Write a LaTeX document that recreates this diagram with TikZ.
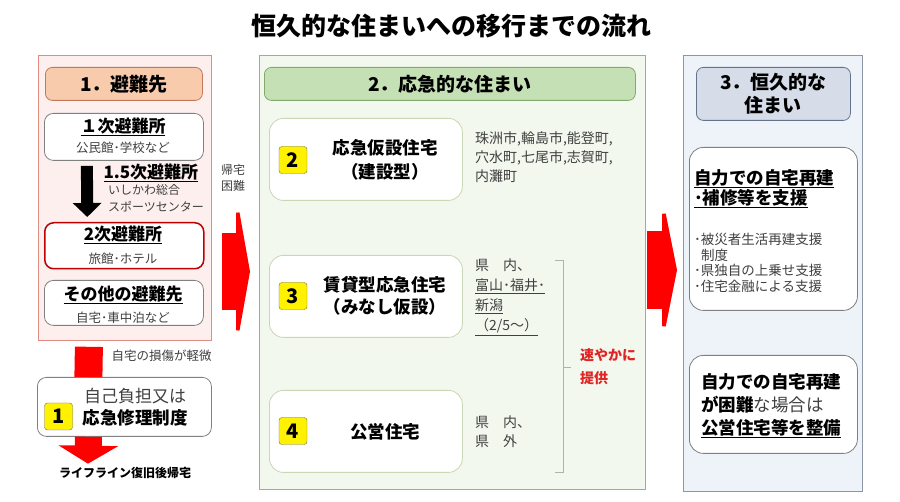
\documentclass[tikz,border=0pt]{standalone}
\usepackage{fontspec}
\setmainfont{Noto Sans CJK JP}
\usetikzlibrary{arrows.meta}

\definecolor{txtgray}{RGB}{64,64,64}
\definecolor{pinkbg}{RGB}{252,239,238}
\definecolor{pinkline}{RGB}{225,140,130}
\definecolor{peach}{RGB}{248,203,173}
\definecolor{peachline}{RGB}{196,120,90}
\definecolor{greenbg}{RGB}{243,248,239}
\definecolor{greenline}{RGB}{160,172,150}
\definecolor{greenhdr}{RGB}{197,224,180}
\definecolor{greenhdrline}{RGB}{130,170,110}
\definecolor{cardline}{RGB}{200,215,180}
\definecolor{bluebg}{RGB}{238,243,250}
\definecolor{blueline}{RGB}{140,150,165}
\definecolor{bluehdr}{RGB}{214,220,232}
\definecolor{bluehdrline}{RGB}{100,115,140}
\definecolor{darkred}{RGB}{192,0,0}
\definecolor{hotred}{RGB}{255,0,0}
\definecolor{textred}{RGB}{225,35,35}
\definecolor{badgeline}{RGB}{120,110,40}
\definecolor{bracketline}{RGB}{170,185,155}

\begin{document}
\begin{tikzpicture}[x=1pt,y=-1pt,
  panel/.style={draw,anchor=north west,inner sep=0pt,line width=0.8pt},
  header/.style={draw,rounded corners=7pt,anchor=north west,inner sep=0pt,line width=0.8pt,align=center,font=\bfseries\fontsize{19}{23}\selectfont},
  card/.style={draw=gray,fill=white,rounded corners=9pt,anchor=north west,inner sep=0pt,line width=0.8pt},
  badge/.style={draw=badgeline,fill=yellow,rounded corners=3pt,minimum width=28pt,minimum height=27pt,inner sep=0pt,font=\bfseries\fontsize{20}{20}\selectfont},
  bold17/.style={font=\bfseries\fontsize{17}{21}\selectfont},
  big/.style={align=center,font=\bfseries\fontsize{17.5}{24}\selectfont},
  note/.style={text=txtgray,font=\fontsize{12.5}{16}\selectfont},
  side/.style={text=txtgray,align=left,anchor=north west,inner sep=0pt,font=\fontsize{14}{19}\selectfont}]
  \useasboundingbox[fill=white] (0,0) rectangle (900,502);

  \node[font=\bfseries\fontsize{25}{30}\selectfont] (title) at (451,26) {恒久的な住まいへの移行までの流れ};

  \node[panel,draw=pinkline,fill=pinkbg,minimum width=173pt,minimum height=285pt] (evac) at (38,55) {};
  \node[header,draw=peachline,fill=peach,minimum width=157pt,minimum height=33pt] (evachd) at (45,67) {1．避難先};
  \node[card,minimum width=159pt,minimum height=47pt] (shelter1) at (44,113) {};
  \node[bold17] (s1name) at (123,127) {\underline{１次避難所}};
  \node[note] (s1note) at (123,148) {公民館･学校など};
  \node[bold17,anchor=west] (s15name) at (100,173) {\underline{1.5次避難所}};
  \node[note,align=left,anchor=north west,inner sep=0pt,font=\fontsize{12}{17.5}\selectfont] (s15note) at (108,184) {いしかわ総合\\スポーツセンター};
  \node[card,draw=darkred,line width=1.5pt,minimum width=159pt,minimum height=46pt] (shelter2) at (44,222) {};
  \node[bold17] (s2name) at (123,235) {\underline{2次避難所}};
  \node[note] (s2note) at (123,259) {旅館･ホテル};
  \node[card,minimum width=159pt,minimum height=45pt] (other) at (44,280) {};
  \node[bold17] (othername) at (123,295) {\underline{その他の避難先}};
  \node[note] (othernote) at (123,318) {自宅･車中泊など};
  \draw[line width=12pt,-{Triangle[length=14pt,width=28pt]}] ([xshift=-37pt,yshift=-5pt]shelter1.south) -- ([xshift=-37pt,yshift=5pt]shelter2.north);

  \node[note,anchor=west] (minor) at (108,356) {自宅の損傷が軽微};
  \node[card,minimum width=174pt,minimum height=59pt] (selfpay) at (37,377) {};
  \draw[hotred,line width=28pt] ([xshift=-36pt,yshift=-6pt]evac.south) -- ([xshift=-36pt]selfpay.north);
  \node[text=txtgray,font=\fontsize{17}{20}\selectfont] (selfpay1) at (135,396) {自己負担又は};
  \node[anchor=west,font=\bfseries\fontsize{17.5}{20}\selectfont] (selfpay2) at (79,418) {応急修理制度};
  \node[badge] (b1) at (58.5,416.5) {1};
  \node[font=\bfseries\fontsize{12}{14}\selectfont] (lifeline) at (125,473) {ライフライン復旧後帰宅};
  \draw[hotred,line width=27pt,-{Triangle[length=18pt,width=59pt]}] ([xshift=-36pt]selfpay.south) -- ([xshift=-37pt]lifeline.north);

  \node[note,align=center,font=\fontsize{12}{16}\selectfont] (hard) at (233,178) {帰宅\\困難};
  \draw[hotred,line width=77pt,-{Triangle[length=14pt,width=157pt]}] (222,271.5) -- (250,271.5);

  \node[panel,draw=greenline,fill=greenbg,minimum width=386pt,minimum height=434pt] (temp) at (259,55) {};
  \node[header,draw=greenhdrline,fill=greenhdr,minimum width=371pt,minimum height=33pt] (temphd) at (264,67) {2．応急的な住まい};
  \node[card,draw=cardline,minimum width=193pt,minimum height=82pt,rounded corners=14pt] (prefab) at (269,118) {};
  \node[badge] (b2) at (293,160) {2};
  \node[big] (prefabname) at (385,160) {応急仮設住宅\\（建設型）};
  \node[side] (prefabcity) at (475,131) {珠洲市,輪島市,能登町,\\穴水町,七尾市,志賀町,\\内灘町};
  \node[card,draw=cardline,minimum width=193pt,minimum height=82pt,rounded corners=14pt] (rental) at (269,255) {};
  \node[badge] (b3) at (293,296) {3};
  \node[big,font=\bfseries\fontsize{17.5}{22}\selectfont] (rentalname) at (385,296) {賃貸型応急住宅\\（みなし仮設）};
  \node[side,font=\fontsize{14}{20}\selectfont] (rentalarea) at (475,259) {県　内、\\\underline{富山･福井･}\\\underline{新潟}\\\underline{（2/5～）}};
  \node[card,draw=cardline,minimum width=193pt,minimum height=82pt,rounded corners=14pt] (public) at (269,390) {};
  \node[badge] (b4) at (293,431) {4};
  \node[big] (publicname) at (385,432) {公営住宅};
  \node[side,font=\fontsize{14}{18.5}\selectfont] (publicarea) at (475,416) {県　内、\\県　外};
  \draw[bracketline,line width=0.8pt] (555,260) -- (563,260) -- (563,472) -- (555,472);
  \draw[bracketline,line width=0.8pt] (563,367) -- (571,367);
  \node[text=textred,align=left,anchor=north west,inner sep=0pt,font=\bfseries\fontsize{14}{23}\selectfont] (quick) at (580,348) {速やかに\\提供};

  \draw[hotred,line width=78pt,-{Triangle[length=15pt,width=150pt]}] (647,270) -- (677,270);

  \node[panel,draw=blueline,fill=bluebg,minimum width=179pt,minimum height=436pt] (perm) at (683,55) {};
  \node[header,draw=bluehdrline,fill=bluehdr,minimum width=154pt,minimum height=53pt] (permhd) at (696,67) {3．恒久的な\\住まい};
  \node[card,minimum width=168pt,minimum height=163pt,rounded corners=14pt] (rebuild) at (689,147) {};
  \node[align=left,anchor=north west,inner sep=0pt,font=\bfseries\fontsize{17.5}{20}\selectfont] (rebuildname) at (694,169) {\underline{自力での自宅再建}\\\underline{･補修等を支援}};
  \node[text=txtgray,align=left,anchor=north west,inner sep=0pt,font=\fontsize{13.5}{15.5}\selectfont] (rebuildlist) at (694,233) {･被災者生活再建支援\\\hspace{7pt}制度\\･県独自の上乗せ支援\\･住宅金融による支援};
  \node[card,minimum width=168pt,minimum height=98pt,rounded corners=14pt] (publicbuild) at (689,355) {};
  \node[align=left,anchor=north west,inner sep=0pt,font=\fontsize{17.5}{23}\selectfont] (publicbuildtext) at (701,373) {\textbf{自力での自宅再建}\\\textbf{が困難}{\color{txtgray}な場合は}\\\textbf{\underline{公営住宅等を整備}}};
\end{tikzpicture}
\end{document}
